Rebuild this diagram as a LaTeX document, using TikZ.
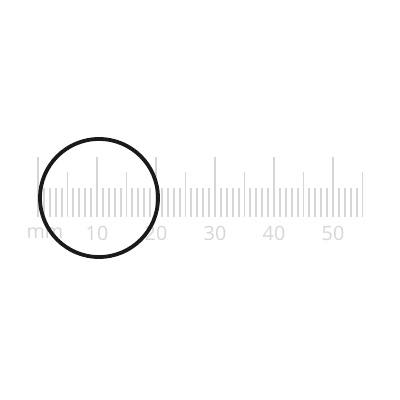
\documentclass[tikz,border=0pt]{standalone}
\usepackage{fontspec}
\setsansfont{Open Sans}
\usepackage{xcolor}
\definecolor{rulergray}{HTML}{D6D6D6}
\definecolor{ringblack}{HTML}{1A1A1A}

\begin{document}
\begin{tikzpicture}[
  x=0.025cm,y=-0.025cm,
  every node/.style={font=\sffamily\fontsize{14}{14}\selectfont,text=rulergray,inner sep=0pt},
  rtick/.style={draw=rulergray,line width=1.3pt},
  ring/.style={draw=ringblack,line width=2.7pt}
]
  \useasboundingbox (0,0) rectangle (400,400);
  \foreach \m in {0,...,55} {
    \pgfmathsetmacro{\ytop}{ifthenelse(mod(\m,10)==0,157,ifthenelse(mod(\m,5)==0,172,188))}
    \draw[rtick] ({38+5.9*\m},216.5) -- ({38+5.9*\m},\ytop);
  }
  \node (unit) at (45,233) {mm};
  \foreach \m in {10,20,...,50} {
    \node (l\m) at ({38+5.9*\m},233) {\m};
  }
  \draw[ring] (99,198) circle [radius=1.475cm];
\end{tikzpicture}
\end{document}
